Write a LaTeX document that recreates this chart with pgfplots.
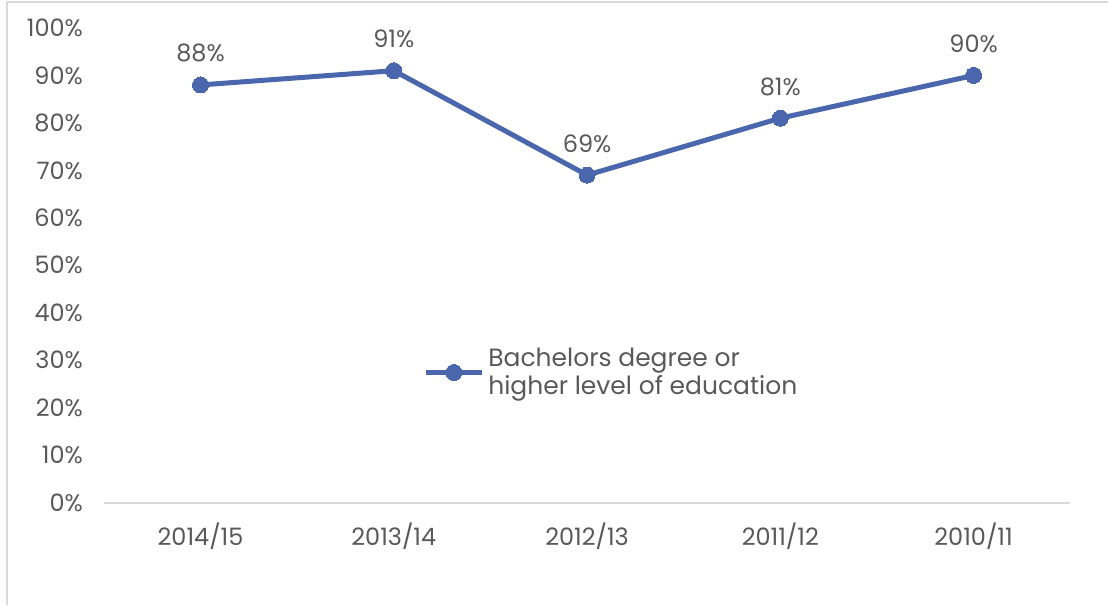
\documentclass[border=0pt]{standalone}
\usepackage{pgfplots}
\pgfplotsset{compat=1.18}
\usepackage{fontspec}
\setmainfont{Poppins}
\definecolor{txt}{HTML}{595959}
\definecolor{series}{HTML}{4A66AC}
\definecolor{axisgray}{HTML}{D9D9D9}
\begin{document}
\begin{tikzpicture}
  % frame of the chart area (left and top edges show in the crop)
  \path (0,0) rectangle (554.5pt,302.5pt);
  \draw[axisgray, line width=0.8pt] (3.5pt,0) -- (3.5pt,301.5pt) -- (554.5pt,301.5pt);
  \begin{axis}[
      at={(52pt,51pt)}, anchor=south west,
      scale only axis,
      width=483.5pt, height=237.5pt,
      xmin=-0.5, xmax=4.5,
      ymin=0, ymax=100,
      xtick=data,
      xticklabels={2014/15, 2013/14, 2012/13, 2011/12, 2010/11},
      ytick={0,10,...,100},
      yticklabel={\pgfmathprintnumber{\tick}\%},
      /pgf/number format/assume math mode=true,
      axis x line*=bottom, axis y line*=left,
      x axis line style={draw=axisgray, line width=1pt, -},
      y axis line style={draw=none},
      major tick length=0pt,
      tick style={draw=none},
      tick label style={font=\fontsize{12pt}{14pt}\selectfont, text=txt},
      yticklabel style={xshift=-7pt},
      xticklabel style={yshift=-6.5pt},
      nodes near coords={\pgfmathprintnumber{\pgfplotspointmeta}\%},
      every node near coord/.append style={font=\fontsize{12pt}{14pt}\selectfont, text=txt, anchor=south, yshift=8pt},
      legend style={at={(0.324,0.344)}, anchor=north west, draw=none, fill=none,
        font=\fontsize{12.5pt}{14pt}\selectfont, text=txt, cells={align=left}},
      legend cell align=left,
      legend image code/.code={
        \draw[mark repeat=2, mark phase=2] plot coordinates {(0pt,0pt) (14pt,0pt) (28pt,0pt)};
      },
    ]
    \addplot[color=series, line width=2.5pt, mark=*, mark size=4pt, mark options={fill=series, draw=series, line width=0pt}]
      coordinates {(0,88) (1,91) (2,69) (3,81) (4,90)};
    \legend{Bachelors degree or\\higher level of education}
  \end{axis}
\end{tikzpicture}
\end{document}
